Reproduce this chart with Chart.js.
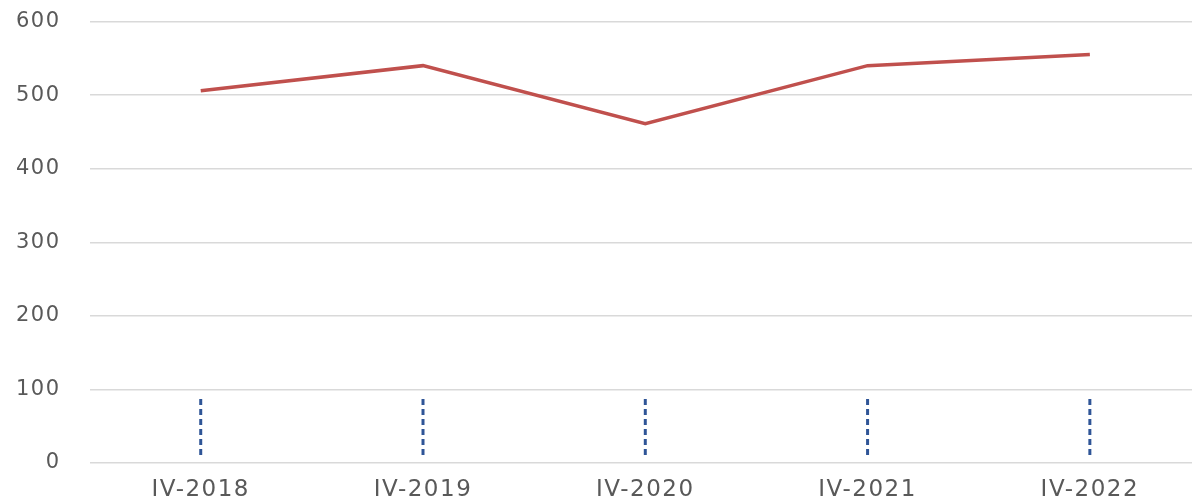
<!DOCTYPE html>
<html>
<head>
<meta charset="utf-8">
<script src="https://cdn.jsdelivr.net/npm/chart.js@4"></script>
<style>
  html, body { margin: 0; padding: 0; background: #fff; overflow: hidden; }
  canvas { display: block; margin: -18px 0 0 -23px; }
</style>
</head>
<body>
<canvas id="chart" width="1224" height="536"></canvas>
<script>
// data
const categories = ['IV-2018', 'IV-2019', 'IV-2020', 'IV-2021', 'IV-2022'];
const seriesValues = [506, 540, 461, 540, 555];
const dropLow = [7, 7, 7, 7, 7];
const dropHigh = [87, 87, 87, 87, 87];
const yTicks = [0, 100, 200, 300, 400, 500, 600];

// dashed verticals: high/low pairs per category, broken by nulls
const dropPoints = [];
categories.forEach((c, i) => {
  dropPoints.push({ x: c, y: dropHigh[i] });
  dropPoints.push({ x: c, y: dropLow[i] });
  dropPoints.push({ x: c, y: null });
});

const fontFamily = '"DejaVu Sans", Verdana, sans-serif';

// wide lettering like the original
const spacing = {
  id: 'spacing',
  beforeUpdate: chart => { chart.ctx.letterSpacing = '1.5px'; },
  beforeDraw: chart => { chart.ctx.letterSpacing = '1.5px'; }
};

const ctx = document.getElementById('chart').getContext('2d');
ctx.letterSpacing = '1.5px';
new Chart(ctx, {
  type: 'line',
  data: {
    labels: categories,
    datasets: [
      {
        label: 'Series',
        data: seriesValues,
        borderColor: '#c0504d',
        borderWidth: 3.5,
        pointRadius: 0,
        tension: 0
      },
      {
        label: 'Drop',
        data: dropPoints,
        borderColor: '#2f5597',
        borderWidth: 3,
        borderDash: [6, 4],
        pointRadius: 0,
        spanGaps: false
      }
    ]
  },
  options: {
    responsive: false,
    animation: false,
    layout: { padding: { top: -3, left: 10, right: 0, bottom: 0 } },
    plugins: {
      legend: { display: false },
      tooltip: { enabled: false }
    },
    scales: {
      x: {
        offset: true,
        grid: { display: false, drawTicks: false },
        border: { display: false },
        ticks: { color: '#595959', font: { family: fontFamily, size: 23, lineHeight: 1 }, padding: 16 }
      },
      y: {
        min: 0,
        max: 600,
        afterBuildTicks: axis => { axis.ticks = yTicks.map(v => ({ value: v })); },
        grid: { color: '#d9d9d9', lineWidth: 1.5, drawTicks: false },
        border: { display: false },
        ticks: { color: '#595959', font: { family: fontFamily, size: 21, lineHeight: 1 }, padding: 29 }
      }
    }
  },
  plugins: [spacing]
});
</script>
</body>
</html>
